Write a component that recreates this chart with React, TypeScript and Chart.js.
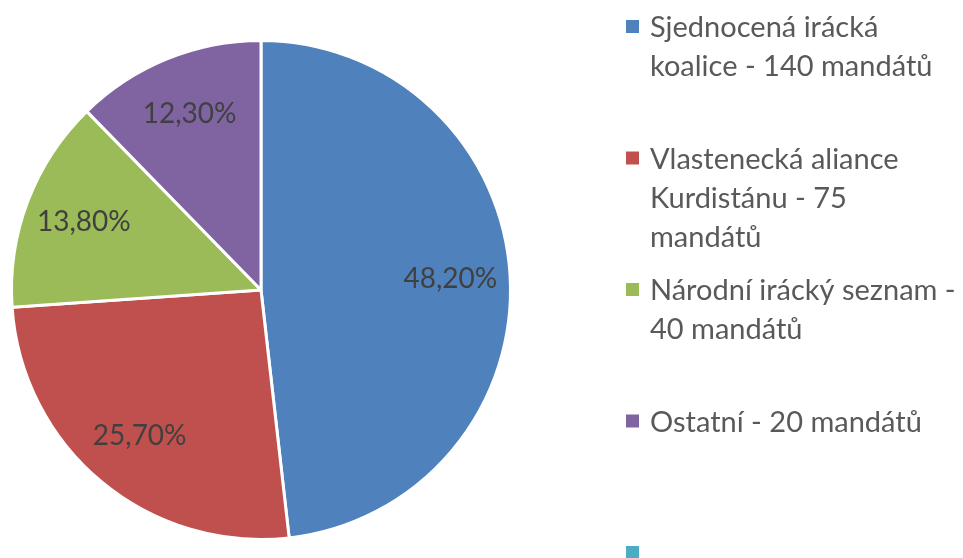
import React, { useEffect, useRef } from "react";
import { Chart, registerables } from "chart.js";
Chart.register(...registerables);

const categories: string[][] = [
  ["Sjednocená irácká", "koalice - 140 mandátů"],
  ["Vlastenecká aliance", "Kurdistánu - 75", "mandátů"],
  ["Národní irácký seznam -", "40 mandátů"],
  ["Ostatní - 20 mandátů"],
  [""],
];
const shares = [48.2, 25.7, 13.8, 12.3, 0];
const colors = ["#4F81BD", "#C0504D", "#9BBB59", "#8064A2", "#4BACC6"];

const FONT = "Lato, 'Open Sans', sans-serif";

const labelPlugin = {
  id: "sliceLabels",
  afterDatasetsDraw(chart: any) {
    const ctx = chart.ctx;
    const meta = chart.getDatasetMeta(0);
    ctx.save();
    ctx.font = `28px ${FONT}`;
    ctx.fillStyle = "#404040";
    ctx.textAlign = "center";
    ctx.textBaseline = "middle";
    meta.data.forEach((arc: any, i: number) => {
      const v = shares[i];
      if (!v) return;
      const { x, y, startAngle, endAngle, outerRadius } = arc.getProps(
        ["x", "y", "startAngle", "endAngle", "outerRadius"],
        true
      );
      const mid = (startAngle + endAngle) / 2;
      const r = outerRadius * 0.76;
      const txt = v.toFixed(2).replace(".", ",") + "%";
      ctx.fillText(txt, x + Math.cos(mid) * r, y + Math.sin(mid) * r);
    });
    ctx.restore();
  },
};

const legendPlugin = {
  id: "wrapLegend",
  afterDraw(chart: any) {
    const ctx = chart.ctx;
    ctx.save();
    const boxX = 626;
    const textX = 650;
    const top0 = 20;
    const step = 131.5;
    const lineH = 39;
    const box = 13;
    ctx.font = `29px ${FONT}`;
    ctx.textAlign = "left";
    ctx.textBaseline = "alphabetic";
    categories.forEach((lines, i) => {
      const top = top0 + i * step;
      ctx.fillStyle = colors[i];
      ctx.fillRect(boxX, top, box, box);
      ctx.fillStyle = "#595959";
      lines.forEach((ln, j) => {
        ctx.fillText(ln, textX, top + 17 + j * lineH);
      });
    });
    ctx.restore();
  },
};

export default function App() {
  const ref = useRef<HTMLCanvasElement | null>(null);
  useEffect(() => {
    if (!ref.current) return;
    const chart = new Chart(ref.current, {
      type: "pie",
      data: {
        labels: categories.map((c) => c.join(" ")),
        datasets: [
          {
            data: shares,
            backgroundColor: colors,
            borderColor: "#FFFFFF",
            borderWidth: 3,
          },
        ],
      },
      options: {
        responsive: false,
        animation: false,
        devicePixelRatio: 1,
        layout: { padding: { left: 10, top: 39, right: 451, bottom: 17 } },
        plugins: {
          legend: { display: false },
          tooltip: { enabled: false },
        },
      },
      plugins: [labelPlugin, legendPlugin],
    });
    return () => chart.destroy();
  }, []);
  return (
    <div style={{ position: "absolute", left: 0, top: 0, width: 963, height: 558, background: "#fff" }}>
      <canvas ref={ref} width={963} height={558} />
    </div>
  );
}
